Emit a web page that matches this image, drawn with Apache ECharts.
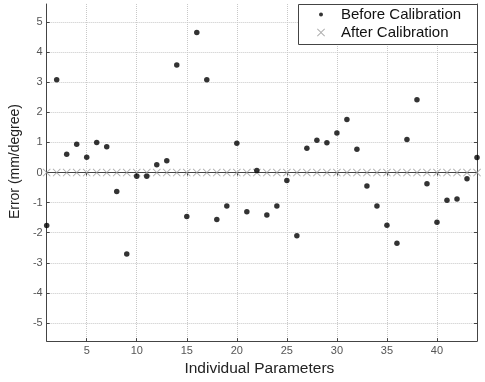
<!DOCTYPE html>
<html>
<head>
<meta charset="utf-8">
<script src="https://cdn.jsdelivr.net/npm/echarts@6/dist/echarts.min.js"></script>
<style>
  html, body { margin: 0; padding: 0; background: #fff; }
  #chart { width: 485px; height: 382px; }
</style>
</head>
<body>
<div id="chart"></div>
<script>
// parameter index 1..44
const params = Array.from({ length: 44 }, (_, i) => i + 1);

// error before calibration (mm/degree)
const beforeCal = [
  -1.76, 3.08, 0.61, 0.94, 0.51, 1.00, 0.86, -0.63, -2.71, -0.12,
  -0.12, 0.26, 0.39, 3.57, -1.46, 4.65, 3.08, -1.56, -1.11, 0.97,
  -1.30, 0.07, -1.41, -1.11, -0.26, -2.10, 0.81, 1.07, 0.99, 1.31,
  1.76, 0.77, -0.45, -1.11, -1.75, -2.35, 1.10, 2.42, -0.37, -1.65,
  -0.92, -0.88, -0.21, 0.50
];

// error after calibration
const afterCal = [
  0, 0, 0, 0, 0, 0, 0, 0, 0, 0,
  0, 0, 0, 0, 0, 0, 0, 0, 0, 0,
  0, 0, 0, 0, 0, 0, 0, 0, 0, 0,
  0, 0, 0, 0, 0, 0, 0, 0, 0, 0,
  0, 0, 0, 0
];

const xTicks = [5, 10, 15, 20, 25, 30, 35, 40];
const yTicks = [-5, -4, -3, -2, -1, 0, 1, 2, 3, 4, 5];

const FONT = '"Liberation Sans", Arial, sans-serif';
const FRAME = '#444';
// thin "x" mark as a filled outline
const X_PATH = 'path://M0,0.8L0.8,0L5,4.2L9.2,0L10,0.8L5.8,5L10,9.2L9.2,10L5,5.8L0.8,10L0,9.2L4.2,5Z';

const chart = echarts.init(document.getElementById('chart'), null, { renderer: 'canvas' });

const frameAxis = {
  axisLine: { show: true, lineStyle: { color: FRAME, width: 1 } },
  axisLabel: { show: false },
  splitLine: { show: false }
};

const option = {
  animation: false,
  backgroundColor: '#fff',
  textStyle: { fontFamily: FONT },
  grid: { left: 41, right: 8, top: 4, bottom: 33 },
  xAxis: [
    {
      type: 'value', min: 1, max: 44,
      name: 'Individual Parameters', nameLocation: 'middle', nameGap: 14,
      nameTextStyle: { fontSize: 15.5, color: '#222', fontFamily: FONT, padding: [0, 5, 0, 0] },
      axisLine: { show: true, onZero: false, lineStyle: { color: FRAME, width: 1 } },
      axisTick: { show: true, inside: true, length: 3, customValues: xTicks, lineStyle: { color: FRAME } },
      axisLabel: { customValues: xTicks, fontSize: 11, color: '#555', margin: 4, fontFamily: FONT },
      splitLine: { show: true, lineStyle: { color: '#c8c8c8', type: 'dotted', width: 1 } }
    },
    Object.assign({ type: 'value', min: 1, max: 44, position: 'top' }, frameAxis, {
      axisTick: { show: true, inside: true, length: 3, customValues: xTicks, lineStyle: { color: FRAME } }
    })
  ],
  yAxis: [
    {
      type: 'value', min: -5.6, max: 5.6,
      name: 'Error (mm/degree)', nameLocation: 'middle', nameGap: 18,
      nameTextStyle: { fontSize: 14, color: '#222', fontFamily: FONT, padding: [0, 0, 0, 22] },
      axisLine: { show: true, onZero: false, lineStyle: { color: FRAME, width: 1 } },
      axisTick: { show: true, inside: true, length: 3, customValues: yTicks, lineStyle: { color: FRAME } },
      axisLabel: { customValues: yTicks, fontSize: 11, color: '#555', margin: 4, fontFamily: FONT },
      splitLine: { show: true, lineStyle: { color: '#c8c8c8', type: 'dotted', width: 1 } }
    },
    Object.assign({ type: 'value', min: -5.6, max: 5.6, position: 'right' }, frameAxis, {
      axisTick: { show: true, inside: true, length: 3, customValues: yTicks, lineStyle: { color: FRAME } }
    })
  ],
  legend: [
    {
      left: 319, top: 7, itemWidth: 30, itemHeight: 4, itemGap: 0, padding: 0, z: 20,
      textStyle: { fontSize: 15, color: '#111', fontFamily: FONT },
      data: [{ name: 'Before Calibration', icon: 'circle', itemStyle: { color: '#000' } }]
    },
    {
      left: 317, top: 25, itemWidth: 30, itemHeight: 8, itemGap: 0, padding: 0, z: 20,
      textStyle: { fontSize: 15, color: '#111', fontFamily: FONT },
      data: [{ name: 'After Calibration', icon: X_PATH, itemStyle: { color: '#999' } }]
    }
  ],
  graphic: [
    {
      type: 'rect', left: 298, top: 4, z: 10,
      shape: { width: 179, height: 40 },
      style: { fill: '#fff', stroke: FRAME, lineWidth: 1 }
    }
  ],
  series: [
    {
      name: 'After Calibration',
      type: 'scatter',
      symbol: X_PATH,
      symbolSize: 8,
      itemStyle: { color: '#999' },
      data: params.map((p, i) => [p, afterCal[i]]),
      z: 2
    },
    {
      name: 'Before Calibration',
      type: 'scatter',
      symbol: 'circle',
      symbolSize: 5.5,
      itemStyle: { color: '#000' },
      data: params.map((p, i) => [p, beforeCal[i]]),
      z: 3
    }
  ]
};

chart.setOption(option);
</script>
</body>
</html>
